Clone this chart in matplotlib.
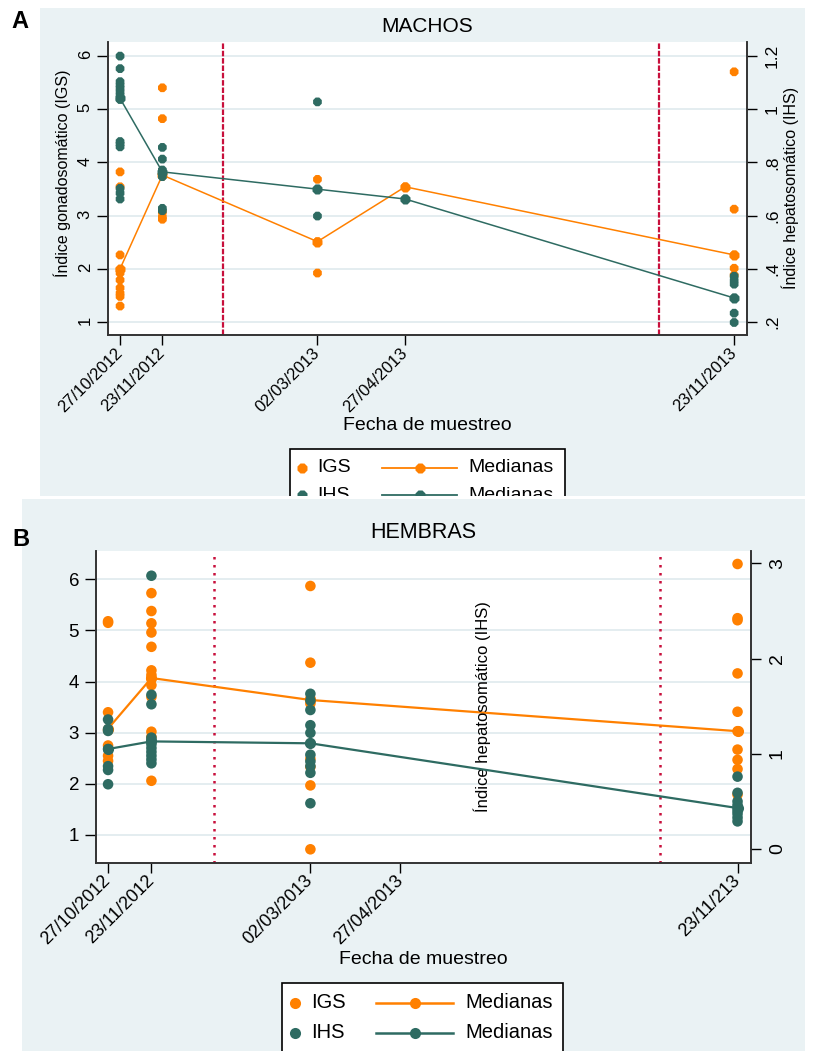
import numpy as np
import matplotlib
matplotlib.use('Agg')
import matplotlib.pyplot as plt
import matplotlib.dates as mdates
from matplotlib.patches import Rectangle
from matplotlib.ticker import FixedLocator, FixedFormatter

plt.rcParams['font.family'] = ['Liberation Sans', 'DejaVu Sans']

NARANJA = '#FF8000'
VERDE = '#2E6B62'
ROJO = '#C8103C'
FONDO = '#EAF2F4'
REJILLA = '#E2ECEF'

W, H = 815, 1051

# ---------------- MACHOS ----------------
fechas_machos = ['2012-10-27', '2012-11-23', '2013-03-02', '2013-04-27', '2013-11-23']
etiq_x_machos = ['27/10/2012', '23/11/2012', '02/03/2013', '27/04/2013', '23/11/2013']
igs_machos = [
    [3.82, 3.54, 2.26, 1.98, 1.92, 1.79, 1.64, 1.54, 1.48, 1.30],
    [5.40, 4.82, 3.79, 3.76, 3.06, 2.97, 2.93],
    [3.68, 2.51, 1.92],
    [3.54],
    [5.70, 3.12, 2.26, 2.01, 1.88],
]
ihs_machos = [
    [1.199, 1.152, 1.103, 1.09, 1.078, 1.065, 1.052, 1.036, 0.878, 0.869, 0.858, 0.702, 0.684, 0.662],
    [0.856, 0.812, 0.771, 0.758, 0.746, 0.627, 0.618],
    [1.027, 0.699, 0.598],
    [0.662],
    [0.372, 0.356, 0.342, 0.29, 0.233, 0.198],
]
med_igs_machos = [2.00, 3.76, 2.51, 3.54, 2.26]
med_ihs_machos = [1.04, 0.764, 0.699, 0.662, 0.29]

# ---------------- HEMBRAS ----------------
fechas_hembras = ['2012-10-27', '2012-11-23', '2013-03-02', '2013-11-23']
etiq_x_hembras = ['27/10/2012', '23/11/2012', '02/03/2013', '27/04/2013', '23/11/213']
igs_hembras = [
    [5.18, 5.15, 3.40, 3.05, 2.75, 2.55, 2.45],
    [5.73, 5.38, 5.14, 4.96, 4.68, 4.22, 4.13, 4.06, 3.93, 3.70, 3.02, 2.92, 2.06],
    [5.87, 4.37, 3.67, 3.57, 2.49, 2.33, 1.97, 0.72],
    [6.30, 5.24, 5.20, 4.16, 3.41, 3.03, 2.67, 2.47, 2.29, 1.79],
]
ihs_hembras = [
    [1.36, 1.26, 1.24, 1.05, 0.87, 0.83, 0.68],
    [2.87, 1.62, 1.52, 1.17, 1.14, 1.10, 1.06, 1.02, 0.98, 0.94, 0.90],
    [1.63, 1.56, 1.46, 1.30, 1.22, 1.11, 0.99, 0.92, 0.87, 0.80, 0.48],
    [0.76, 0.59, 0.50, 0.46, 0.43, 0.40, 0.37, 0.33, 0.29],
]
med_igs_hembras = [3.08, 4.07, 3.64, 3.03]
med_ihs_hembras = [1.05, 1.13, 1.11, 0.43]

fechas_ticks = ['2012-10-27', '2012-11-23', '2013-03-02', '2013-04-27', '2013-11-23']
fechas_cortes = ['2013-01-01', '2013-10-06']


def caja(l, t, r, b):
    return [l / W, 1 - b / H, (r - l) / W, (b - t) / H]


def fechas_num(lista):
    return mdates.date2num(np.array(lista, dtype='datetime64[D]'))


def panel(rect, fechas, igs, ihs, med_igs, med_ihs, etiq_x, ylim_izq, ticks_izq,
          ylim_der, ticks_der, etiq_der, est):
    ax = fig.add_axes(caja(*rect), zorder=1)
    ax2 = ax.twinx()
    x = fechas_num(fechas)
    x0 = fechas_num(['2012-10-27'])[0]
    for a in (ax, ax2):
        a.set_xlim(x0 - 7.7, x0 + 400.2)
        a.spines['top'].set_visible(False)
        for s in ('left', 'right', 'bottom'):
            a.spines[s].set_color('#333333')
            a.spines[s].set_linewidth(1.2)

    ax.set_ylim(*ylim_izq)
    ax2.set_ylim(*ylim_der)
    ax.yaxis.set_major_locator(FixedLocator(ticks_izq))
    ax.yaxis.grid(True, color=REJILLA, lw=1.3, zorder=0)
    ax.set_axisbelow(True)
    ax2.yaxis.set_major_locator(FixedLocator(ticks_der))
    ax2.yaxis.set_major_formatter(FixedFormatter(etiq_der))

    ax.xaxis.set_major_locator(FixedLocator(fechas_num(fechas_ticks)))
    ax.xaxis.set_major_formatter(FixedFormatter(etiq_x))
    for lab in ax.get_xticklabels():
        lab.set_rotation(45)
        lab.set_ha('right')
        lab.set_va('center')
        lab.set_rotation_mode('anchor')
    ax.tick_params(axis='x', length=7, width=1, pad=4, labelsize=est['fs_x'])
    ax.tick_params(axis='y', length=8, width=1, labelsize=est['fs_izq'],
                   labelrotation=est['rot_izq'], pad=est['pad_izq'])
    ax2.tick_params(axis='y', length=7, width=1, labelsize=est['fs_der'],
                    labelrotation=90, pad=est['pad_der'])
    for lab in ax2.get_yticklabels():
        lab.set_va('center')

    for xc in fechas_num(fechas_cortes):
        ax.axvline(xc, color=ROJO, lw=est['lw_corte'], ls=est['ls_corte'], zorder=1)

    xs = np.repeat(x, [len(v) for v in igs])
    ax.scatter(xs, np.concatenate(igs), s=est['s'], marker=est['m'], color=NARANJA,
               edgecolors='none', zorder=3)
    ax.plot(x, med_igs, color=NARANJA, lw=est['lw'], marker=est['m'],
            ms=est['ms'], mec='none', zorder=4)
    xs = np.repeat(x, [len(v) for v in ihs])
    ax2.scatter(xs, np.concatenate(ihs), s=est['s'], marker=est['m'], color=VERDE,
                edgecolors='none', zorder=3)
    ax2.plot(x, med_ihs, color=VERDE, lw=est['lw'], marker=est['m'],
             ms=est['ms'], mec='none', zorder=4)
    return ax, ax2


def leyenda(x0, x1, y0, filas, fs, ms, lw, m, dx, z):
    fondo.add_patch(Rectangle((x0, y0), x1 - x0, 90, facecolor='white',
                              edgecolor='black', lw=1.2, zorder=z))
    for y, color, nombre in filas:
        fondo.plot([x0 + dx[0]], [y], marker=m, ms=ms, color=color, mec='none', zorder=z + 1)
        fondo.text(x0 + dx[1], y, nombre, fontsize=fs, va='center', ha='left', zorder=z + 1)
        fondo.plot([x0 + dx[2], x0 + dx[3]], [y, y], color=color, lw=lw, zorder=z + 1)
        fondo.plot([x0 + (dx[2] + dx[3]) / 2], [y], marker=m, ms=ms, color=color,
                   mec='none', zorder=z + 1)
        fondo.text(x0 + dx[4], y, 'Medianas', fontsize=fs, va='center', ha='left', zorder=z + 1)


fig = plt.figure(figsize=(W / 100, H / 100), dpi=100)
fondo = fig.add_axes([0, 0, 1, 1], zorder=-1)
fondo.set_xlim(0, W)
fondo.set_ylim(H, 0)
fondo.axis('off')

# panel A
fondo.add_patch(Rectangle((40, 8), 765, 490, facecolor=FONDO, edgecolor='none', zorder=0))
fondo.text(20, 21, 'A', fontsize=17, fontweight='bold', ha='center', va='center')
fondo.text(427, 27, 'MACHOS', fontsize=15, ha='center', va='center')
fondo.text(427, 426, 'Fecha de muestreo', fontsize=14, ha='center', va='center')
fondo.text(62, 173, 'Índice gonadosomático (IGS)', fontsize=11.5, rotation=90,
           ha='center', va='center')
fondo.text(790, 188, 'Índice hepatosomático (IHS)', fontsize=11.5, rotation=90,
           ha='center', va='center')
leyenda(290, 565, 449, [(468, NARANJA, 'IGS'), (495, VERDE, 'IHS')],
        14, 8, 1.3, '8', (12, 27, 92, 167, 178), 2)

# franja blanca y panel B
fondo.add_patch(Rectangle((0, 496), W, 4, facecolor='white', edgecolor='none', zorder=5))
fondo.add_patch(Rectangle((22, 499), 783, H - 499, facecolor=FONDO, edgecolor='none', zorder=5))
fondo.text(21, 540, 'B', fontsize=17, fontweight='bold', ha='center', va='center', zorder=6)
fondo.text(423, 533, 'HEMBRAS', fontsize=15.5, ha='center', va='center', zorder=6)
fondo.text(423, 960, 'Fecha de muestreo', fontsize=14, ha='center', va='center', zorder=6)
leyenda(282, 563, 983, [(1003, NARANJA, 'IGS'), (1033, VERDE, 'IHS')],
        14.5, 8, 1.8, 'o', (13, 29, 94, 171, 183), 6)

est_a = dict(fs_x=12, fs_izq=12, fs_der=12.5, rot_izq=90, pad_izq=3, pad_der=6,
             s=46, ms=7.5, m='8', lw=1.1, lw_corte=1.6, ls_corte=(0, (2.5, 0.8)))
panel((108, 42, 747, 335), fechas_machos, igs_machos, ihs_machos, med_igs_machos,
      med_ihs_machos, etiq_x_machos, (0.756, 6.26), [1, 2, 3, 4, 5, 6],
      (0.151, 1.252), [0.2, 0.4, 0.6, 0.8, 1.0, 1.2], ['.2', '.4', '.6', '.8', '1', '1.2'],
      est_a)

est_b = dict(fs_x=13, fs_izq=13.5, fs_der=14, rot_izq=0, pad_izq=4, pad_der=6,
             s=58, ms=8, m='o', lw=1.6, lw_corte=1.8, ls_corte=(0, (1, 2.2)))
axb, axb2 = panel((95.7, 550.7, 750.7, 862.7), fechas_hembras, igs_hembras, ihs_hembras,
                  med_igs_hembras, med_ihs_hembras, etiq_x_hembras, (0.458, 6.56),
                  [1, 2, 3, 4, 5, 6], (-0.144, 3.133), [0, 1, 2, 3], ['0', '1', '2', '3'],
                  est_b)
axb.set_zorder(7)
axb2.set_zorder(8)
axb.text(0.59, 0.5, 'Índice hepatosomático (IHS)', transform=axb.transAxes, rotation=90,
         fontsize=12, ha='center', va='center', zorder=5)

fig.savefig('out.png', dpi=100)
